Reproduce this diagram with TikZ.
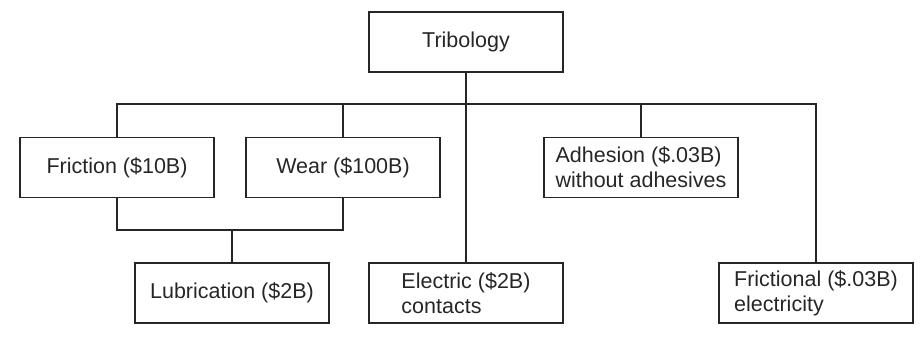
\documentclass[tikz,border=0pt]{standalone}
\usepackage{fontspec}
\setmainfont{Liberation Sans}
\begin{document}
\begin{tikzpicture}[x=1pt,y=-1pt,
  box/.style={draw=black!85, line width=1.8pt, minimum width=194pt, minimum height=60pt,
    inner sep=0pt, align=left, text=black!85,
    font=\fontsize{21.5pt}{25pt}\selectfont},
  conn/.style={draw=black!85, line width=2.2pt}]
\useasboundingbox (0,0) rectangle (924,338);
\node[box] (trib) at (466,42) {Tribology};
\node[box] (fric) at (117,167.5) {Friction (\$10B)};
\node[box] (wear) at (343,167.5) {Wear (\$100B)};
\node[box] (adh) at (641,167.5) {Adhesion (\$.03B)\\without adhesives};
\node[box] (lub) at (232,293) {Lubrication (\$2B)};
\node[box] (elec) at (466,293) {Electric (\$2B)\\contacts};
\node[box] (fel) at (816,293) {Frictional (\$.03B)\\electricity};
\coordinate (busy) at (0,104);
\coordinate (lowy) at (0,230);
\draw[conn] (trib.south) -- (elec.north);
\draw[conn] (fric.north) -- (fric.north |- busy) -- (fel.north |- busy) -- (fel.north);
\draw[conn] (wear.north) -- (wear.north |- busy);
\draw[conn] (adh.north) -- (adh.north |- busy);
\draw[conn] (fric.south) -- (fric.south |- lowy) -- (wear.south |- lowy) -- (wear.south);
\draw[conn] (lub.north |- lowy) -- (lub.north);
\end{tikzpicture}
\end{document}
